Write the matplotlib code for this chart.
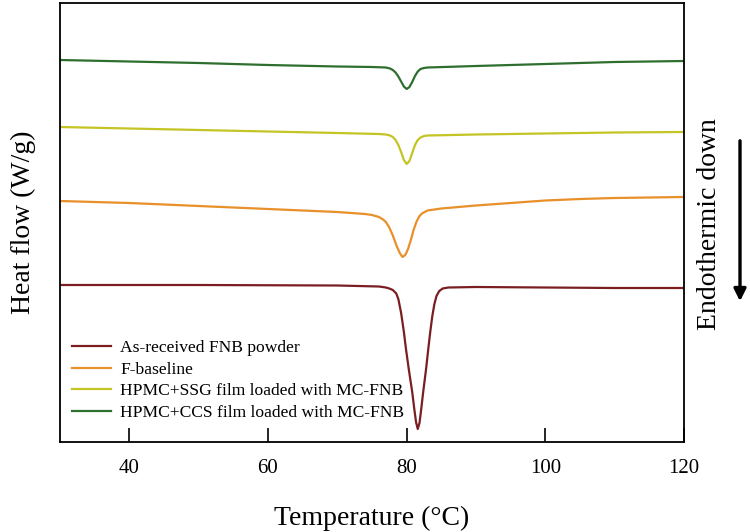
import matplotlib
matplotlib.use("Agg")
import matplotlib.pyplot as plt

plt.rcParams['font.family'] = ['Liberation Serif', 'DejaVu Serif']

# DSC curves (heat flow, arbitrary offset units)
t_red = [30, 50, 70, 76, 77, 77.5, 78, 78.5, 78.8, 79.2, 79.6, 79.9, 80.3, 80.8, 81.1, 81.35, 81.6,
         81.85, 82.1, 82.4, 82.8, 83.1, 83.4, 83.7, 84.0, 84.3, 84.7, 85.2, 86, 90, 100, 110, 120]
hf_red = [3.14, 3.14, 3.13, 3.11, 3.09, 3.07, 3.04, 2.97, 2.86, 2.58, 2.20, 1.86, 1.46, 1.00, 0.66, 0.40, 0.26,
          0.38, 0.66, 1.02, 1.46, 1.84, 2.20, 2.52, 2.76, 2.92, 3.02, 3.07, 3.09, 3.10, 3.09, 3.08, 3.08]

t_orange = [30, 40, 50, 60, 70, 74, 75, 76, 76.6, 77, 77.5, 78, 78.5, 79, 79.4, 79.8, 80.2, 80.6,
            81, 81.4, 81.8, 82.2, 83, 85, 90, 95, 100, 105, 110, 120]
hf_orange = [4.82, 4.78, 4.72, 4.66, 4.60, 4.56, 4.54, 4.50, 4.45, 4.40, 4.29, 4.13, 3.94, 3.78, 3.70, 3.74, 3.86, 4.04,
             4.24, 4.40, 4.51, 4.57, 4.63, 4.67, 4.73, 4.78, 4.83, 4.86, 4.88, 4.90]

t_yellow = [30, 40, 50, 60, 70, 76, 77, 77.6, 78, 78.4, 78.8, 79.2, 79.6, 80, 80.4, 80.8, 81.2, 81.6,
            82, 82.5, 83, 90, 100, 110, 120]
hf_yellow = [6.30, 6.27, 6.24, 6.21, 6.18, 6.16, 6.15, 6.13, 6.10, 6.04, 5.94, 5.80, 5.64, 5.56, 5.62, 5.78, 5.94, 6.04,
             6.09, 6.12, 6.13, 6.15, 6.17, 6.19, 6.20]

t_green = [30, 40, 50, 60, 70, 75, 77, 77.6, 78, 78.4, 78.8, 79.2, 79.6, 80, 80.4, 80.8, 81.2, 81.6,
           82, 82.5, 83, 90, 100, 110, 120]
hf_green = [7.64, 7.61, 7.58, 7.54, 7.51, 7.50, 7.49, 7.47, 7.44, 7.39, 7.31, 7.21, 7.11, 7.06, 7.10, 7.20, 7.32, 7.41,
            7.46, 7.48, 7.49, 7.52, 7.56, 7.60, 7.62]

labels = ["As-received FNB powder", "F-baseline",
          "HPMC+SSG film loaded with MC-FNB", "HPMC+CCS film loaded with MC-FNB"]
colors = ["#7a1e22", "#e8902a", "#c4c424", "#2e6e2e"]
xticks = [40, 60, 80, 100, 120]

fig = plt.figure(figsize=(7.5, 5.32), dpi=100)
ax = fig.add_axes([60/750, 1 - 442/532, 624/750, 439/532])

series = [(t_red, hf_red), (t_orange, hf_orange), (t_yellow, hf_yellow), (t_green, hf_green)]
for (t, hf), c, lab in zip(series, colors, labels):
    ax.plot(t, hf, color=c, lw=1.6, label=lab)

ax.set_xlim(30, 120)
ax.set_ylim(0, 8.78)
ax.set_xticks(xticks)
ax.set_yticks([])
ax.tick_params(axis='x', direction='in', length=10, width=1.2, labelsize=15, pad=12)
for s in ax.spines.values():
    s.set_linewidth(1.3)

ax.set_xlabel("Temperature (\u00b0C)", fontsize=20, labelpad=20)
ax.set_ylabel("Heat flow (W/g)", fontsize=20, labelpad=17)

ax.legend(loc='lower left', frameon=False, fontsize=12.6, handlelength=2.2,
          handletextpad=0.55, labelspacing=0.3, borderaxespad=0.3,
          bbox_to_anchor=(0.0, 0.02))

fig.text(710/750, 1 - 224/532, "Endothermic down", rotation=90, fontsize=20,
         ha='center', va='center')
fig.add_artist(matplotlib.patches.FancyArrowPatch(
    (740/750, 1 - 138/532), (740/750, 1 - 304/532), transform=fig.transFigure,
    arrowstyle='-|>', mutation_scale=18, lw=2.4, color='black'))

fig.savefig("out.png", dpi=100)
